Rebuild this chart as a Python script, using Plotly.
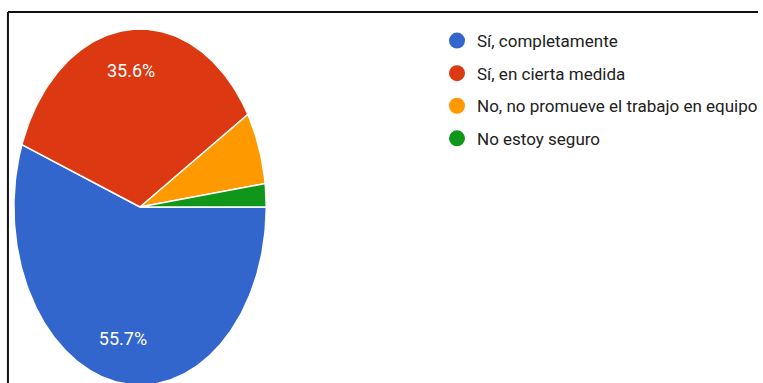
import numpy as np
import plotly.graph_objects as go

labels = ["Sí, completamente", "Sí, en cierta medida",
          "No, no promueve el trabajo en equipo", "No estoy seguro"]
values = [55.7, 35.6, 6.6, 2.1]
colors = ["#3366CC", "#DC3912", "#FF9900", "#109618"]

W, H = 763, 383
# pie geometry in pixels (ellipse stretched vertically)
cx, cy, rx, ry = 141, 207, 127, 178

fig = go.Figure()

vals = np.array(values, dtype=float)
fracs = vals / vals.sum()
start = 0.0  # 3 o'clock, going clockwise
label_r = 0.76
lx, ly, lt = [], [], []
for lab, f, col in zip(labels, fracs, colors):
    a0 = start
    a1 = start - 2 * np.pi * f
    n = max(int(400 * f), 4)
    ang = np.linspace(a0, a1, n)
    xs = np.concatenate([[0], np.cos(ang), [0]])
    ys = np.concatenate([[0], np.sin(ang), [0]])
    fig.add_trace(go.Scatter(
        x=xs, y=ys, mode="lines", fill="toself", fillcolor=col,
        line=dict(color="white", width=1.5), showlegend=False,
        hoverinfo="text", text=f"{lab}: {f*100:.1f}%", name=lab))
    if f > 0.1:
        mid = (a0 + a1) / 2
        lx.append(label_r * np.cos(mid))
        ly.append(label_r * np.sin(mid))
        lt.append(f"{f*100:.1f}%")
    start = a1

fig.add_trace(go.Scatter(
    x=lx, y=ly, mode="text", text=lt, showlegend=False, hoverinfo="skip",
    textfont=dict(family="Roboto", size=18, color="white")))

# legend entries
for i, (lab, col) in enumerate(zip(labels, colors)):
    fig.add_trace(go.Scatter(
        x=[None], y=[None], mode="markers", name=lab, legendgroup=f"g{i}",
        marker=dict(symbol="circle", size=16, color=col)))

x0 = -cx / rx
x1 = (W - cx) / rx
y1 = cy / ry
y0 = -(H - cy) / ry

fig.update_layout(
    width=W, height=H, autosize=False,
    margin=dict(l=0, r=0, t=0, b=0),
    paper_bgcolor="white", plot_bgcolor="white",
    xaxis=dict(range=[x0, x1], visible=False, fixedrange=True),
    yaxis=dict(range=[y0, y1], visible=False, fixedrange=True),
    font=dict(family="Roboto", color="#212121"),
    legend=dict(x=440 / W, y=1 - 23 / H, xanchor="left", yanchor="top",
                font=dict(family="Roboto", size=17, color="#212121"),
                tracegroupgap=7.5, bgcolor="rgba(0,0,0,0)"),
    shapes=[
        dict(type="line", xref="paper", yref="paper",
             x0=8 / W, x1=1, y0=1 - 12 / H, y1=1 - 12 / H,
             line=dict(color="#111111", width=2)),
        dict(type="line", xref="paper", yref="paper",
             x0=8 / W, x1=8 / W, y0=1 - 12 / H, y1=0,
             line=dict(color="#111111", width=2)),
    ],
)

fig.write_html("out.html")
